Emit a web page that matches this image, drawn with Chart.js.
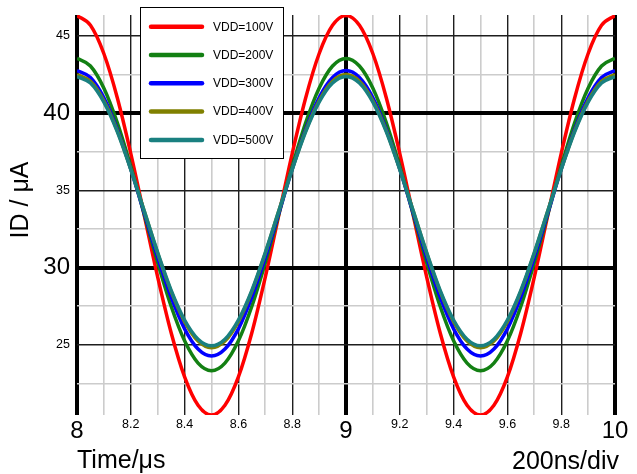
<!DOCTYPE html>
<html>
<head>
<meta charset="utf-8">
<title>ID vs Time</title>
<script src="https://cdn.jsdelivr.net/npm/chart.js@4.4.1/dist/chart.umd.min.js"></script>
<style>
    html, body {
        margin: 0;
        padding: 0;
        background: #fff;
    }
    #wrap {
        width: 637px;
        height: 474px;
    }
</style>
</head>
<body>
<div id="wrap">
    <canvas id="idChart" width="637" height="474"></canvas>
</div>
<script>
// Time axis (µs), one sample every 50 ns
const timeUs = [
    8.00, 8.05, 8.10, 8.15, 8.20, 8.25, 8.30, 8.35, 8.40, 8.45,
    8.50, 8.55, 8.60, 8.65, 8.70, 8.75, 8.80, 8.85, 8.90, 8.95,
    9.00, 9.05, 9.10, 9.15, 9.20, 9.25, 9.30, 9.35, 9.40, 9.45,
    9.50, 9.55, 9.60, 9.65, 9.70, 9.75, 9.80, 9.85, 9.90, 9.95,
    10.00
];

// ID values (µA)
const vdd100 = [
    46.31, 45.68, 43.84, 40.98, 37.38, 33.38, 29.38, 25.78, 22.92, 21.08,
    20.45, 21.08, 22.92, 25.78, 29.38, 33.38, 37.38, 40.98, 43.84, 45.68,
    46.31, 45.68, 43.84, 40.98, 37.38, 33.38, 29.38, 25.78, 22.92, 21.08,
    20.45, 21.08, 22.92, 25.78, 29.38, 33.38, 37.38, 40.98, 43.84, 45.68,
    46.31
];
const vdd200 = [
    43.54, 43.05, 41.61, 39.37, 36.55, 33.43, 30.31, 27.49, 25.25, 23.81,
    23.32, 23.81, 25.25, 27.49, 30.31, 33.43, 36.55, 39.37, 41.61, 43.05,
    43.54, 43.05, 41.61, 39.37, 36.55, 33.43, 30.31, 27.49, 25.25, 23.81,
    23.32, 23.81, 25.25, 27.49, 30.31, 33.43, 36.55, 39.37, 41.61, 43.05,
    43.54
];
const vdd300 = [
    42.75, 42.30, 40.99, 38.94, 36.37, 33.51, 30.65, 28.08, 26.03, 24.72,
    24.27, 24.72, 26.03, 28.08, 30.65, 33.51, 36.37, 38.94, 40.99, 42.30,
    42.75, 42.30, 40.99, 38.94, 36.37, 33.51, 30.65, 28.08, 26.03, 24.72,
    24.27, 24.72, 26.03, 28.08, 30.65, 33.51, 36.37, 38.94, 40.99, 42.30,
    42.75
];
const vdd400 = [
    42.49, 42.06, 40.80, 38.85, 36.38, 33.65, 30.92, 28.45, 26.50, 25.24,
    24.81, 25.24, 26.50, 28.45, 30.92, 33.65, 36.38, 38.85, 40.80, 42.06,
    42.49, 42.06, 40.80, 38.85, 36.38, 33.65, 30.92, 28.45, 26.50, 25.24,
    24.81, 25.24, 26.50, 28.45, 30.92, 33.65, 36.38, 38.85, 40.80, 42.06,
    42.49
];
const vdd500 = [
    42.37, 41.94, 40.70, 38.78, 36.34, 33.65, 30.96, 28.52, 26.60, 25.36,
    24.93, 25.36, 26.60, 28.52, 30.96, 33.65, 36.34, 38.78, 40.70, 41.94,
    42.37, 41.94, 40.70, 38.78, 36.34, 33.65, 30.96, 28.52, 26.60, 25.36,
    24.93, 25.36, 26.60, 28.52, 30.96, 33.65, 36.34, 38.78, 40.70, 41.94,
    42.37
];

const seriesLabels = ['VDD=100V', 'VDD=200V', 'VDD=300V', 'VDD=400V', 'VDD=500V'];
const seriesValues = [vdd100, vdd200, vdd300, vdd400, vdd500];
const seriesColors = ['#ff0000', '#138013', '#0000ff', '#808000', '#1a8080'];

// Grid / tick positions
const xTicks = [
    8.0, 8.1, 8.2, 8.3, 8.4, 8.5, 8.6, 8.7, 8.8, 8.9,
    9.0, 9.1, 9.2, 9.3, 9.4, 9.5, 9.6, 9.7, 9.8, 9.9, 10.0
];
const yTicks = [22.5, 25, 27.5, 30, 32.5, 35, 37.5, 40, 42.5, 45];

const FONT = "'Liberation Sans', Arial, Helvetica, sans-serif";

// helpers for tick classes
function isWhole(v) {
    return Math.abs(v - Math.round(v)) < 1e-6;
}
function xLevel(v) {
    if (isWhole(v)) return 2;
    return Math.round(v * 10) % 2 === 0 ? 1 : 0;
}
function yLevel(v) {
    if (Math.abs(v % 10) < 1e-6) return 2;
    return Math.abs(v % 5) < 1e-6 ? 1 : 0;
}
// scriptable contexts without a tick (scale measuring) fall back to level 1
function ctxLevel(c, fn) {
    return (c && c.tick) ? fn(c.tick.value) : 1;
}

const gridColors = ['#cccccc', '#1e1e1e', '#000000'];
const gridWidths = [1.6, 1.4, 4];

// Legend, y title and the div note drawn on top
const extrasPlugin = {
    id: 'extras',
    afterDraw(chart) {
        const ctx = chart.ctx;
        ctx.save();

        // legend box
        ctx.fillStyle = '#ffffff';
        ctx.fillRect(140.5, 7.5, 143, 151);
        ctx.strokeStyle = '#000000';
        ctx.lineWidth = 1;
        ctx.strokeRect(140.5, 7.5, 143, 151);

        chart.data.datasets.forEach((ds, i) => {
            const y = 26.7 + i * 28.3;
            ctx.beginPath();
            ctx.moveTo(151, y);
            ctx.lineTo(202, y);
            ctx.strokeStyle = ds.borderColor;
            ctx.lineWidth = 4.5;
            ctx.lineCap = 'round';
            ctx.stroke();

            ctx.fillStyle = '#000000';
            ctx.font = '12px ' + FONT;
            ctx.textAlign = 'left';
            ctx.textBaseline = 'middle';
            ctx.fillText(ds.label, 213, y + 0.5);
        });

        // y axis title
        ctx.fillStyle = '#000000';
        ctx.font = '25px ' + FONT;
        ctx.textAlign = 'center';
        ctx.textBaseline = 'middle';
        ctx.translate(21, 200);
        ctx.rotate(-Math.PI / 2);
        ctx.fillText('ID / \u03bcA', 0, 0);
        ctx.setTransform(1, 0, 0, 1, 0, 0);

        // time base note
        ctx.textAlign = 'right';
        ctx.fillText('200ns/div', 619, 462);

        ctx.restore();
    }
};

document.addEventListener('DOMContentLoaded', function() {
    initIdChart();
});

function initIdChart() {
    const ctx = document.getElementById('idChart').getContext('2d');

    const datasets = seriesValues.map((vals, i) => ({
        label: seriesLabels[i],
        data: vals.map((v, k) => ({ x: timeUs[k], y: v })),
        borderColor: seriesColors[i],
        backgroundColor: seriesColors[i],
        borderWidth: 3.5,
        pointRadius: 0,
        cubicInterpolationMode: 'monotone',
        fill: false,
        order: seriesValues.length - i
    }));

    new Chart(ctx, {
        type: 'line',
        data: { datasets: datasets },
        options: {
            responsive: false,
            animation: false,
            layout: {
                padding: { top: 15, right: 22, left: 0, bottom: 0 }
            },
            plugins: {
                legend: { display: false },
                tooltip: { enabled: false }
            },
            scales: {
                x: {
                    type: 'linear',
                    min: 8,
                    max: 10,
                    afterBuildTicks: function(scale) {
                        scale.ticks = xTicks.map(v => ({ value: v }));
                    },
                    afterFit: function(scale) {
                        scale.height = 59;
                    },
                    border: { display: false },
                    grid: {
                        drawTicks: false,
                        color: c => gridColors[ctxLevel(c, xLevel)],
                        lineWidth: c => gridWidths[ctxLevel(c, xLevel)]
                    },
                    ticks: {
                        autoSkip: false,
                        maxRotation: 0,
                        padding: 2,
                        color: '#000',
                        font: c => ({
                            family: FONT,
                            size: ctxLevel(c, xLevel) === 2 ? 24 : 12.5
                        }),
                        callback: function(value) {
                            const lvl = xLevel(value);
                            if (lvl === 2) return String(Math.round(value));
                            if (lvl === 1) return value.toFixed(1);
                            return '';
                        }
                    },
                    title: {
                        display: true,
                        text: 'Time/\u03bcs',
                        align: 'start',
                        color: '#000',
                        font: { family: FONT, size: 25, lineHeight: 1 },
                        padding: { top: 0, bottom: 0 }
                    }
                },
                y: {
                    type: 'linear',
                    min: 20.45,
                    max: 46.35,
                    afterBuildTicks: function(scale) {
                        scale.ticks = yTicks.map(v => ({ value: v }));
                    },
                    afterFit: function(scale) {
                        scale.width = 77;
                    },
                    border: { display: false },
                    grid: {
                        drawTicks: false,
                        color: c => gridColors[ctxLevel(c, yLevel)],
                        lineWidth: c => gridWidths[ctxLevel(c, yLevel)]
                    },
                    ticks: {
                        autoSkip: false,
                        padding: 7,
                        color: '#000',
                        font: c => ({
                            family: FONT,
                            size: ctxLevel(c, yLevel) === 2 ? 24 : 12.5
                        }),
                        callback: function(value) {
                            return yLevel(value) > 0 ? String(value) : '';
                        }
                    }
                }
            }
        },
        plugins: [extrasPlugin]
    });
}
</script>
</body>
</html>
